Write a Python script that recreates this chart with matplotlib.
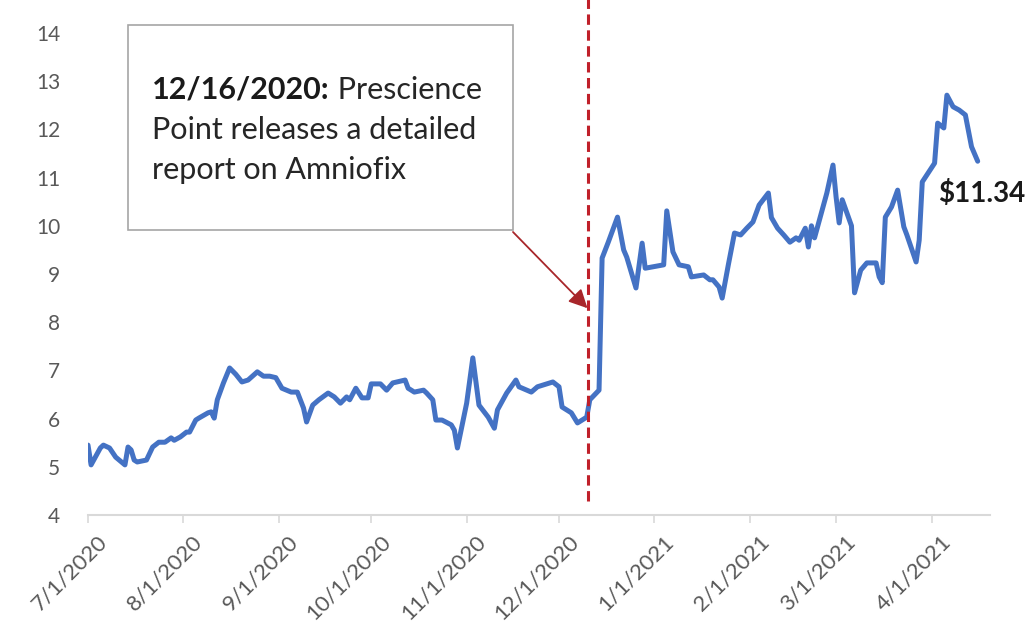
import matplotlib
matplotlib.use('Agg')
import matplotlib.pyplot as plt
import matplotlib.transforms as mtransforms
from matplotlib.patches import Rectangle
import pandas as pd

# ---------------- data ----------------
dates = [
    '2020-07-01', '2020-07-02', '2020-07-05', '2020-07-06', '2020-07-08', '2020-07-10',
    '2020-07-13', '2020-07-14', '2020-07-15', '2020-07-16', '2020-07-17', '2020-07-20',
    '2020-07-22', '2020-07-24', '2020-07-26', '2020-07-28', '2020-07-29', '2020-07-31',
    '2020-08-02', '2020-08-03', '2020-08-05', '2020-08-06', '2020-08-09', '2020-08-10',
    '2020-08-11', '2020-08-12', '2020-08-14', '2020-08-16', '2020-08-18', '2020-08-20',
    '2020-08-22', '2020-08-25', '2020-08-27', '2020-08-29', '2020-08-31', '2020-09-02',
    '2020-09-05', '2020-09-07', '2020-09-09', '2020-09-10', '2020-09-12', '2020-09-14',
    '2020-09-17', '2020-09-19', '2020-09-21', '2020-09-23', '2020-09-24', '2020-09-26',
    '2020-09-28', '2020-09-30', '2020-10-01', '2020-10-04', '2020-10-06', '2020-10-08',
    '2020-10-12', '2020-10-13', '2020-10-15', '2020-10-18', '2020-10-19', '2020-10-21',
    '2020-10-22', '2020-10-24', '2020-10-27', '2020-10-28', '2020-10-29', '2020-11-01',
    '2020-11-03', '2020-11-05', '2020-11-08', '2020-11-10', '2020-11-11', '2020-11-14',
    '2020-11-17', '2020-11-18', '2020-11-22', '2020-11-24', '2020-11-26', '2020-11-29',
    '2020-12-01', '2020-12-02', '2020-12-05', '2020-12-07', '2020-12-10', '2020-12-11',
    '2020-12-14', '2020-12-15', '2020-12-17', '2020-12-20', '2020-12-22', '2020-12-23',
    '2020-12-26', '2020-12-28', '2020-12-29', '2021-01-04', '2021-01-05', '2021-01-07',
    '2021-01-09', '2021-01-12', '2021-01-13', '2021-01-17', '2021-01-19', '2021-01-20',
    '2021-01-22', '2021-01-23', '2021-01-25', '2021-01-27', '2021-01-29', '2021-01-31',
    '2021-02-02', '2021-02-04', '2021-02-07', '2021-02-08', '2021-02-10', '2021-02-12',
    '2021-02-14', '2021-02-16', '2021-02-17', '2021-02-19', '2021-02-20', '2021-02-21',
    '2021-02-22', '2021-02-26', '2021-02-28', '2021-03-01', '2021-03-02', '2021-03-03',
    '2021-03-06', '2021-03-07', '2021-03-09', '2021-03-11', '2021-03-14', '2021-03-15',
    '2021-03-16', '2021-03-17', '2021-03-19', '2021-03-21', '2021-03-23', '2021-03-24',
    '2021-03-27', '2021-03-28', '2021-03-29', '2021-04-01', '2021-04-02', '2021-04-03',
    '2021-04-05', '2021-04-06', '2021-04-08', '2021-04-10', '2021-04-12', '2021-04-14',
    '2021-04-16',
]
prices = [
    5.45, 5.04, 5.39, 5.45, 5.39, 5.20,
    5.04, 5.41, 5.35, 5.14, 5.10, 5.14,
    5.41, 5.51, 5.51, 5.60, 5.55, 5.62,
    5.72, 5.72, 5.97, 6.01, 6.12, 6.14,
    6.01, 6.39, 6.74, 7.05, 6.92, 6.76,
    6.80, 6.97, 6.88, 6.88, 6.85, 6.63,
    6.55, 6.55, 6.22, 5.93, 6.28, 6.39,
    6.53, 6.45, 6.32, 6.45, 6.39, 6.63,
    6.43, 6.43, 6.72, 6.72, 6.59, 6.74,
    6.80, 6.63, 6.55, 6.59, 6.53, 6.39,
    5.97, 5.97, 5.87, 5.76, 5.39, 6.32,
    7.26, 6.28, 6.03, 5.80, 6.18, 6.53,
    6.80, 6.66, 6.55, 6.66, 6.70, 6.76,
    6.66, 6.24, 6.12, 5.91, 6.03, 6.39,
    6.59, 9.33, 9.66, 10.18, 9.50, 9.35,
    8.71, 9.64, 9.12, 9.19, 10.31, 9.46,
    9.19, 9.15, 8.94, 8.98, 8.88, 8.88,
    8.73, 8.50, 9.19, 9.85, 9.81, 9.95,
    10.08, 10.43, 10.68, 10.17, 9.95, 9.81,
    9.66, 9.75, 9.70, 9.95, 9.56, 10.00,
    9.75, 10.68, 11.26, 10.60, 10.06, 10.54,
    10.00, 8.61, 9.08, 9.23, 9.23, 8.94,
    8.82, 10.18, 10.39, 10.74, 9.98, 9.81,
    9.25, 9.70, 10.91, 11.20, 11.30, 12.13,
    12.03, 12.71, 12.47, 12.40, 12.30, 11.64,
    11.34,
]
tick_dates = ['2020-07-01', '2020-08-01', '2020-09-01', '2020-10-01', '2020-11-01',
              '2020-12-01', '2021-01-01', '2021-02-01', '2021-03-01', '2021-04-01']
tick_labels = ['7/1/2020', '8/1/2020', '9/1/2020', '10/1/2020', '11/1/2020',
               '12/1/2020', '1/1/2021', '2/1/2021', '3/1/2021', '4/1/2021']
y_ticks = [4, 5, 6, 7, 8, 9, 10, 11, 12, 13, 14]
x_range = ['2020-07-01', '2021-04-20']
event_line_date = '2020-12-10 12:00'   # where the dashed marker is drawn
arrow_tip = ('2020-12-10 06:00', 8.29)
last_label = '$11.34'
last_label_pos = ('2021-04-03', 10.68)
note_bold = '12/16/2020:'
note_lines = [' Prescience', 'Point releases a detailed', 'report on Amniofix']

# ---------------- style ----------------
FONT = ['Lato', 'DejaVu Sans']
plt.rcParams['font.family'] = FONT
LINE_BLUE = '#4472C4'
RED = '#C0202A'
GRAY_TXT = '#595959'
AXIS_GRAY = '#D9D9D9'

W, H = 1034, 626
fig = plt.figure(figsize=(W / 100, H / 100), dpi=100)
fig.patch.set_facecolor('white')


def fx(px):
    return px / W


def fy(py):
    return 1 - py / H


ax = fig.add_axes([fx(88), fy(515), fx(990) - fx(88), fy(33) - fy(515)])

d = pd.to_datetime(dates)
ax.plot(d, prices, color=LINE_BLUE, lw=3.6, solid_joinstyle='round',
        solid_capstyle='round', zorder=3)

ax.set_xlim(pd.to_datetime(x_range[0]), pd.to_datetime(x_range[1]))
ax.set_ylim(y_ticks[0], y_ticks[-1])
ax.set_yticks(y_ticks)
ax.set_yticklabels([str(v) for v in y_ticks])
ax.set_xticks(pd.to_datetime(tick_dates))
ax.set_xticklabels(tick_labels)

for s in ['top', 'right', 'left']:
    ax.spines[s].set_visible(False)
ax.spines['bottom'].set_color(AXIS_GRAY)
ax.spines['bottom'].set_linewidth(1.5)
ax.tick_params(axis='y', length=0, pad=20, labelsize=15, labelcolor=GRAY_TXT)
ax.tick_params(axis='x', length=6, width=1.2, color=AXIS_GRAY, direction='out',
               pad=6, labelsize=16, labelcolor=GRAY_TXT)
offset = mtransforms.ScaledTranslation(9 / 100, 0, fig.dpi_scale_trans)
for lab in ax.get_xticklabels():
    lab.set_rotation(45)
    lab.set_ha('right')
    lab.set_va('top')
    lab.set_rotation_mode('anchor')
    lab.set_transform(lab.get_transform() + offset)

# dashed event line (extends above the plot)
ev = pd.to_datetime(event_line_date)
ax.plot([ev, ev], [4.3, 14.7], color=RED, lw=2.2, dashes=(3.4, 1.8),
        clip_on=False, zorder=4)

# annotation box
box = Rectangle((fx(128), fy(230)), fx(513) - fx(128), fy(25) - fy(230),
                transform=fig.transFigure, facecolor='white',
                edgecolor='#A6A6A6', lw=1.2, zorder=5)
fig.patches.append(box)

NOTE_SIZE = 22
t_bold = fig.text(fx(152), fy(90), note_bold, fontsize=NOTE_SIZE, fontweight='bold',
                  color='#1a1a1a', va='center', ha='left', zorder=6)
fig.canvas.draw()
r = fig.canvas.get_renderer()
bb = t_bold.get_window_extent(r)
fig.text(bb.x1 / W, fy(90), note_lines[0], fontsize=NOTE_SIZE, color='#262626',
         va='center', ha='left', zorder=6)
fig.text(fx(152), fy(130), note_lines[1], fontsize=NOTE_SIZE, color='#262626',
         va='center', ha='left', zorder=6)
fig.text(fx(152), fy(170), note_lines[2], fontsize=NOTE_SIZE, color='#262626',
         va='center', ha='left', zorder=6)

# arrow from box to dashed line
ax.annotate('', xy=(pd.to_datetime(arrow_tip[0]), arrow_tip[1]), xycoords='data',
            xytext=(fx(513), fy(232)), textcoords='figure fraction',
            arrowprops=dict(arrowstyle='-|>', color='#A8262A', lw=1.3,
                            mutation_scale=28, shrinkA=0, shrinkB=0),
            zorder=6, annotation_clip=False)

# last price label
ax.text(pd.to_datetime(last_label_pos[0]), last_label_pos[1], last_label,
        fontsize=20, fontweight='bold', color='#1a1a1a', ha='left', va='center',
        clip_on=False, zorder=6)

fig.savefig('out.png', dpi=100, facecolor='white')
